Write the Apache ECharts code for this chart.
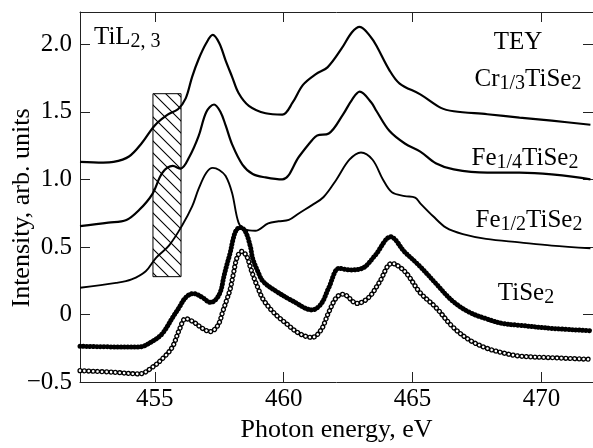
<!DOCTYPE html>
<html>
<head>
<meta charset="utf-8">
<script src="https://cdn.jsdelivr.net/npm/echarts@6/dist/echarts.min.js"></script>
<style>
    html, body { margin: 0; padding: 0; background: #fff; }
    #chart_01 { width: 593px; height: 448px; }
</style>
</head>
<body>
<div id="chart_01"></div>
<script>
// Ti L2,3 TEY spectra
var crEnergy = [452.1, 453.0, 453.4, 454.0, 454.5, 455.0, 455.5, 455.9, 456.2, 456.45, 456.7, 457.0, 457.25, 457.5, 457.75, 458.0, 458.25, 458.65, 459.3, 459.95, 460.35, 460.75, 461.25, 461.7, 462.25, 462.65, 462.95, 463.4, 463.6, 464.1, 464.5, 465.3, 466.1, 466.6, 467.9, 469.15, 470.4, 471.9];
var crIntensity = [1.13, 1.125, 1.13, 1.17, 1.27, 1.40, 1.48, 1.52, 1.60, 1.76, 1.89, 2.01, 2.07, 2.01, 1.88, 1.76, 1.64, 1.545, 1.49, 1.48, 1.57, 1.70, 1.78, 1.83, 1.97, 2.09, 2.13, 2.05, 1.99, 1.81, 1.71, 1.63, 1.53, 1.505, 1.483, 1.458, 1.435, 1.405];

var fe14Energy = [452.1, 453.2, 453.9, 454.4, 454.9, 455.3, 455.7, 456.0, 456.35, 456.7, 457.0, 457.3, 457.55, 457.75, 458.0, 458.4, 458.8, 459.3, 459.95, 460.6, 461.1, 461.3, 461.75, 462.3, 462.65, 462.95, 463.4, 463.6, 464.1, 464.7, 465.3, 465.9, 466.6, 467.9, 469.15, 470.4, 471.9];
var fe14Intensity = [0.655, 0.68, 0.70, 0.775, 0.89, 1.05, 1.10, 1.08, 1.17, 1.32, 1.50, 1.555, 1.50, 1.40, 1.26, 1.11, 1.04, 1.015, 1.0, 1.17, 1.29, 1.326, 1.34, 1.48, 1.59, 1.65, 1.57, 1.507, 1.36, 1.266, 1.206, 1.12, 1.074, 1.05, 1.05, 1.037, 1.0];

var fe12Energy = [452.1, 453.5, 454.1, 454.65, 455.05, 455.55, 456.05, 456.45, 456.7, 457.0, 457.25, 457.5, 457.75, 458.0, 458.25, 458.5, 458.9, 459.4, 459.8, 460.2, 460.6, 461.1, 461.55, 462.05, 462.55, 463.0, 463.45, 463.85, 464.2, 464.7, 465.1, 465.3, 465.8, 466.3, 466.95, 467.85, 469.15, 470.4, 471.9];
var fe12Intensity = [0.198, 0.234, 0.26, 0.32, 0.42, 0.51, 0.655, 0.80, 0.93, 1.05, 1.086, 1.07, 1.025, 0.90, 0.68, 0.63, 0.62, 0.675, 0.69, 0.70, 0.75, 0.81, 0.87, 1.0, 1.146, 1.20, 1.146, 1.0, 0.905, 0.877, 0.865, 0.823, 0.727, 0.643, 0.595, 0.56, 0.534, 0.51, 0.49];

// TiSe2, two measurements (filled and open symbols)
var tiAEnergy = [452.1, 453.4, 454.4, 454.9, 455.3, 455.7, 455.95, 456.2, 456.5, 456.85, 457.15, 457.35, 457.55, 457.68, 457.8, 457.93, 458.03, 458.15, 458.3, 458.5, 458.7, 458.8, 459.0, 459.2, 459.7, 460.35, 461.1, 461.45, 461.75, 462.15, 462.55, 463.05, 463.55, 464.15, 464.7, 465.3, 465.95, 466.55, 467.2, 467.85, 468.5, 469.15, 470.4, 471.9];
var tiAIntensity = [-0.235, -0.24, -0.24, -0.20, -0.14, -0.02, 0.053, 0.126, 0.155, 0.126, 0.09, 0.106, 0.17, 0.28, 0.37, 0.46, 0.55, 0.62, 0.645, 0.62, 0.51, 0.414, 0.318, 0.245, 0.173, 0.10, 0.034, 0.077, 0.198, 0.342, 0.33, 0.342, 0.438, 0.575, 0.462, 0.354, 0.22, 0.10, 0.017, -0.031, -0.067, -0.08, -0.103, -0.12];

var tiBEnergy = [452.1, 453.4, 454.4, 454.9, 455.4, 455.7, 455.95, 456.2, 456.5, 456.85, 457.15, 457.45, 457.65, 457.8, 457.93, 458.05, 458.2, 458.38, 458.58, 458.7, 458.83, 459.0, 459.2, 459.6, 460.1, 460.6, 461.1, 461.45, 461.75, 462.05, 462.3, 462.85, 463.3, 463.7, 464.2, 464.7, 465.3, 465.9, 466.55, 467.2, 467.85, 468.5, 469.15, 470.4, 471.9];
var tiBIntensity = [-0.416, -0.428, -0.44, -0.392, -0.308, -0.235, -0.115, -0.031, -0.055, -0.103, -0.127, -0.08, 0.029, 0.113, 0.19, 0.30, 0.426, 0.467, 0.426, 0.354, 0.28, 0.198, 0.113, 0.017, -0.067, -0.14, -0.17, -0.115, 0.017, 0.126, 0.15, 0.082, 0.126, 0.234, 0.378, 0.318, 0.16, 0.053, -0.09, -0.188, -0.248, -0.284, -0.308, -0.32, -0.332];

// hatched energy window
var hatchEnergy = [454.93, 456.02];
var hatchIntensity = [0.28, 1.635];

var yTicks = [-0.5, 0, 0.5, 1.0, 1.5, 2.0];

var serif = '"Liberation Serif", "DejaVu Serif", serif';

function pairs(xs, ys) {
    return xs.map(function (x, i) { return [x, ys[i]]; });
}

function hatchPattern() {
    var c = document.createElement('canvas');
    c.width = 12; c.height = 12;
    var ctx = c.getContext('2d');
    ctx.strokeStyle = '#000';
    ctx.lineWidth = 1.1;
    ctx.beginPath();
    ctx.moveTo(0, 0); ctx.lineTo(12, 12);
    ctx.moveTo(-2, 10); ctx.lineTo(2, 14);
    ctx.moveTo(10, -2); ctx.lineTo(14, 2);
    ctx.stroke();
    return c;
}

function label(x, y, text, align) {
    return {
        type: 'text',
        x: x,
        y: y,
        style: {
            text: text,
            fill: '#000',
            font: '25px ' + serif,
            align: align || 'center',
            verticalAlign: 'middle',
            rich: {
                m: { font: '25px ' + serif, fontFamily: serif, fontSize: 25, lineHeight: 30, verticalAlign: 'middle', fill: '#000' },
                s: { font: '20px ' + serif, fontFamily: serif, fontSize: 20, lineHeight: 13, verticalAlign: 'bottom', fill: '#000' }
            }
        }
    };
}

var tickLen = 10;
var axisColor = '#222';

function xAxisOpt(pos) {
    return {
        type: 'value',
        position: pos,
        min: 452.1,
        max: 472,
        splitNumber: 4,
        axisLine: { show: true, onZero: false, lineStyle: { color: axisColor, width: 1 } },
        axisTick: { show: true, inside: true, length: tickLen, lineStyle: { color: axisColor } },
        axisLabel: {
            show: pos === 'bottom',
            margin: 5,
            showMinLabel: false,
            showMaxLabel: false,
            color: '#000',
            fontFamily: serif,
            fontSize: 25
        },
        splitLine: { show: false }
    };
}

function yAxisOpt(pos) {
    return {
        type: 'value',
        position: pos,
        min: yTicks[0],
        max: 2.24,
        interval: 0.5,
        axisLine: { show: true, onZero: false, lineStyle: { color: axisColor, width: 1 } },
        axisTick: { show: true, inside: true, length: tickLen, lineStyle: { color: axisColor } },
        axisLabel: {
            show: pos === 'left',
            margin: 8,
            showMaxLabel: false,
            color: '#000',
            fontFamily: serif,
            fontSize: 25,
            formatter: function (v) {
                if (yTicks.indexOf(v) < 0) return '';
                if (v === 0) return '0';
                return (v < 0 ? '\u2212' : '') + Math.abs(v).toFixed(1);
            }
        },
        splitLine: { show: false }
    };
}

function curve(name, xs, ys, style, z) {
    return {
        name: name,
        type: 'line',
        data: pairs(xs, ys),
        smooth: 0.35,
        showSymbol: false,
        symbol: 'none',
        z: z || 3,
        lineStyle: style
    };
}

var myChart = echarts.init(document.getElementById('chart_01'));
myChart.setOption({
    animation: false,
    grid: { left: 80, top: 12, width: 515, height: 379 },
    xAxis: [
        Object.assign(xAxisOpt('bottom'), {
            name: 'Photon energy, eV',
            nameLocation: 'middle',
            nameGap: 35,
            nameTextStyle: { color: '#000', fontFamily: serif, fontSize: 26 }
        }),
        xAxisOpt('top')
    ],
    yAxis: [yAxisOpt('left'), yAxisOpt('right')],
    graphic: [
        {
            type: 'text',
            x: 22,
            y: 208,
            rotation: Math.PI / 2,
            style: {
                text: 'Intensity, arb. units',
                fill: '#000',
                font: '26px ' + serif,
                align: 'center',
                verticalAlign: 'middle'
            }
        },
        label(94, 37, '{m|TiL}{s|2, 3}', 'left'),
        label(518, 42, '{m|TEY}'),
        label(528, 79, '{m|Cr}{s|1/3}{m|TiSe}{s|2}'),
        label(525, 158, '{m|Fe}{s|1/4}{m|TiSe}{s|2}'),
        label(529, 220, '{m|Fe}{s|1/2}{m|TiSe}{s|2}'),
        label(526, 293, '{m|TiSe}{s|2}')
    ],
    series: [
        {
            type: 'line',
            data: [],
            z: 1,
            markArea: {
                silent: true,
                itemStyle: {
                    color: { image: hatchPattern(), repeat: 'repeat' },
                    borderColor: '#000',
                    borderWidth: 1,
                    opacity: 1
                },
                data: [[
                    { coord: [hatchEnergy[0], hatchIntensity[1]] },
                    { coord: [hatchEnergy[1], hatchIntensity[0]] }
                ]]
            }
        },
        curve('Cr1/3TiSe2', crEnergy, crIntensity, { color: '#000', width: 2.2 }),
        curve('Fe1/4TiSe2', fe14Energy, fe14Intensity, { color: '#000', width: 2.2 }),
        curve('Fe1/2TiSe2', fe12Energy, fe12Intensity, { color: '#000', width: 1.9 }),
        // filled circles
        curve('TiSe2 a', tiAEnergy, tiAIntensity, { color: '#000', width: 5, type: [0.01, 3.4], cap: 'round' }),
        // open circles: black dots with white centres on the same dash
        curve('TiSe2 b', tiBEnergy, tiBIntensity, { color: '#000', width: 5.2, type: [0.01, 4.4], cap: 'round' }),
        curve('TiSe2 b inner', tiBEnergy, tiBIntensity, { color: '#fff', width: 2.6, type: [0.01, 4.4], cap: 'round' }, 4)
    ]
});
window.addEventListener('resize', function () {
    myChart.resize();
});
</script>
</body>
</html>
